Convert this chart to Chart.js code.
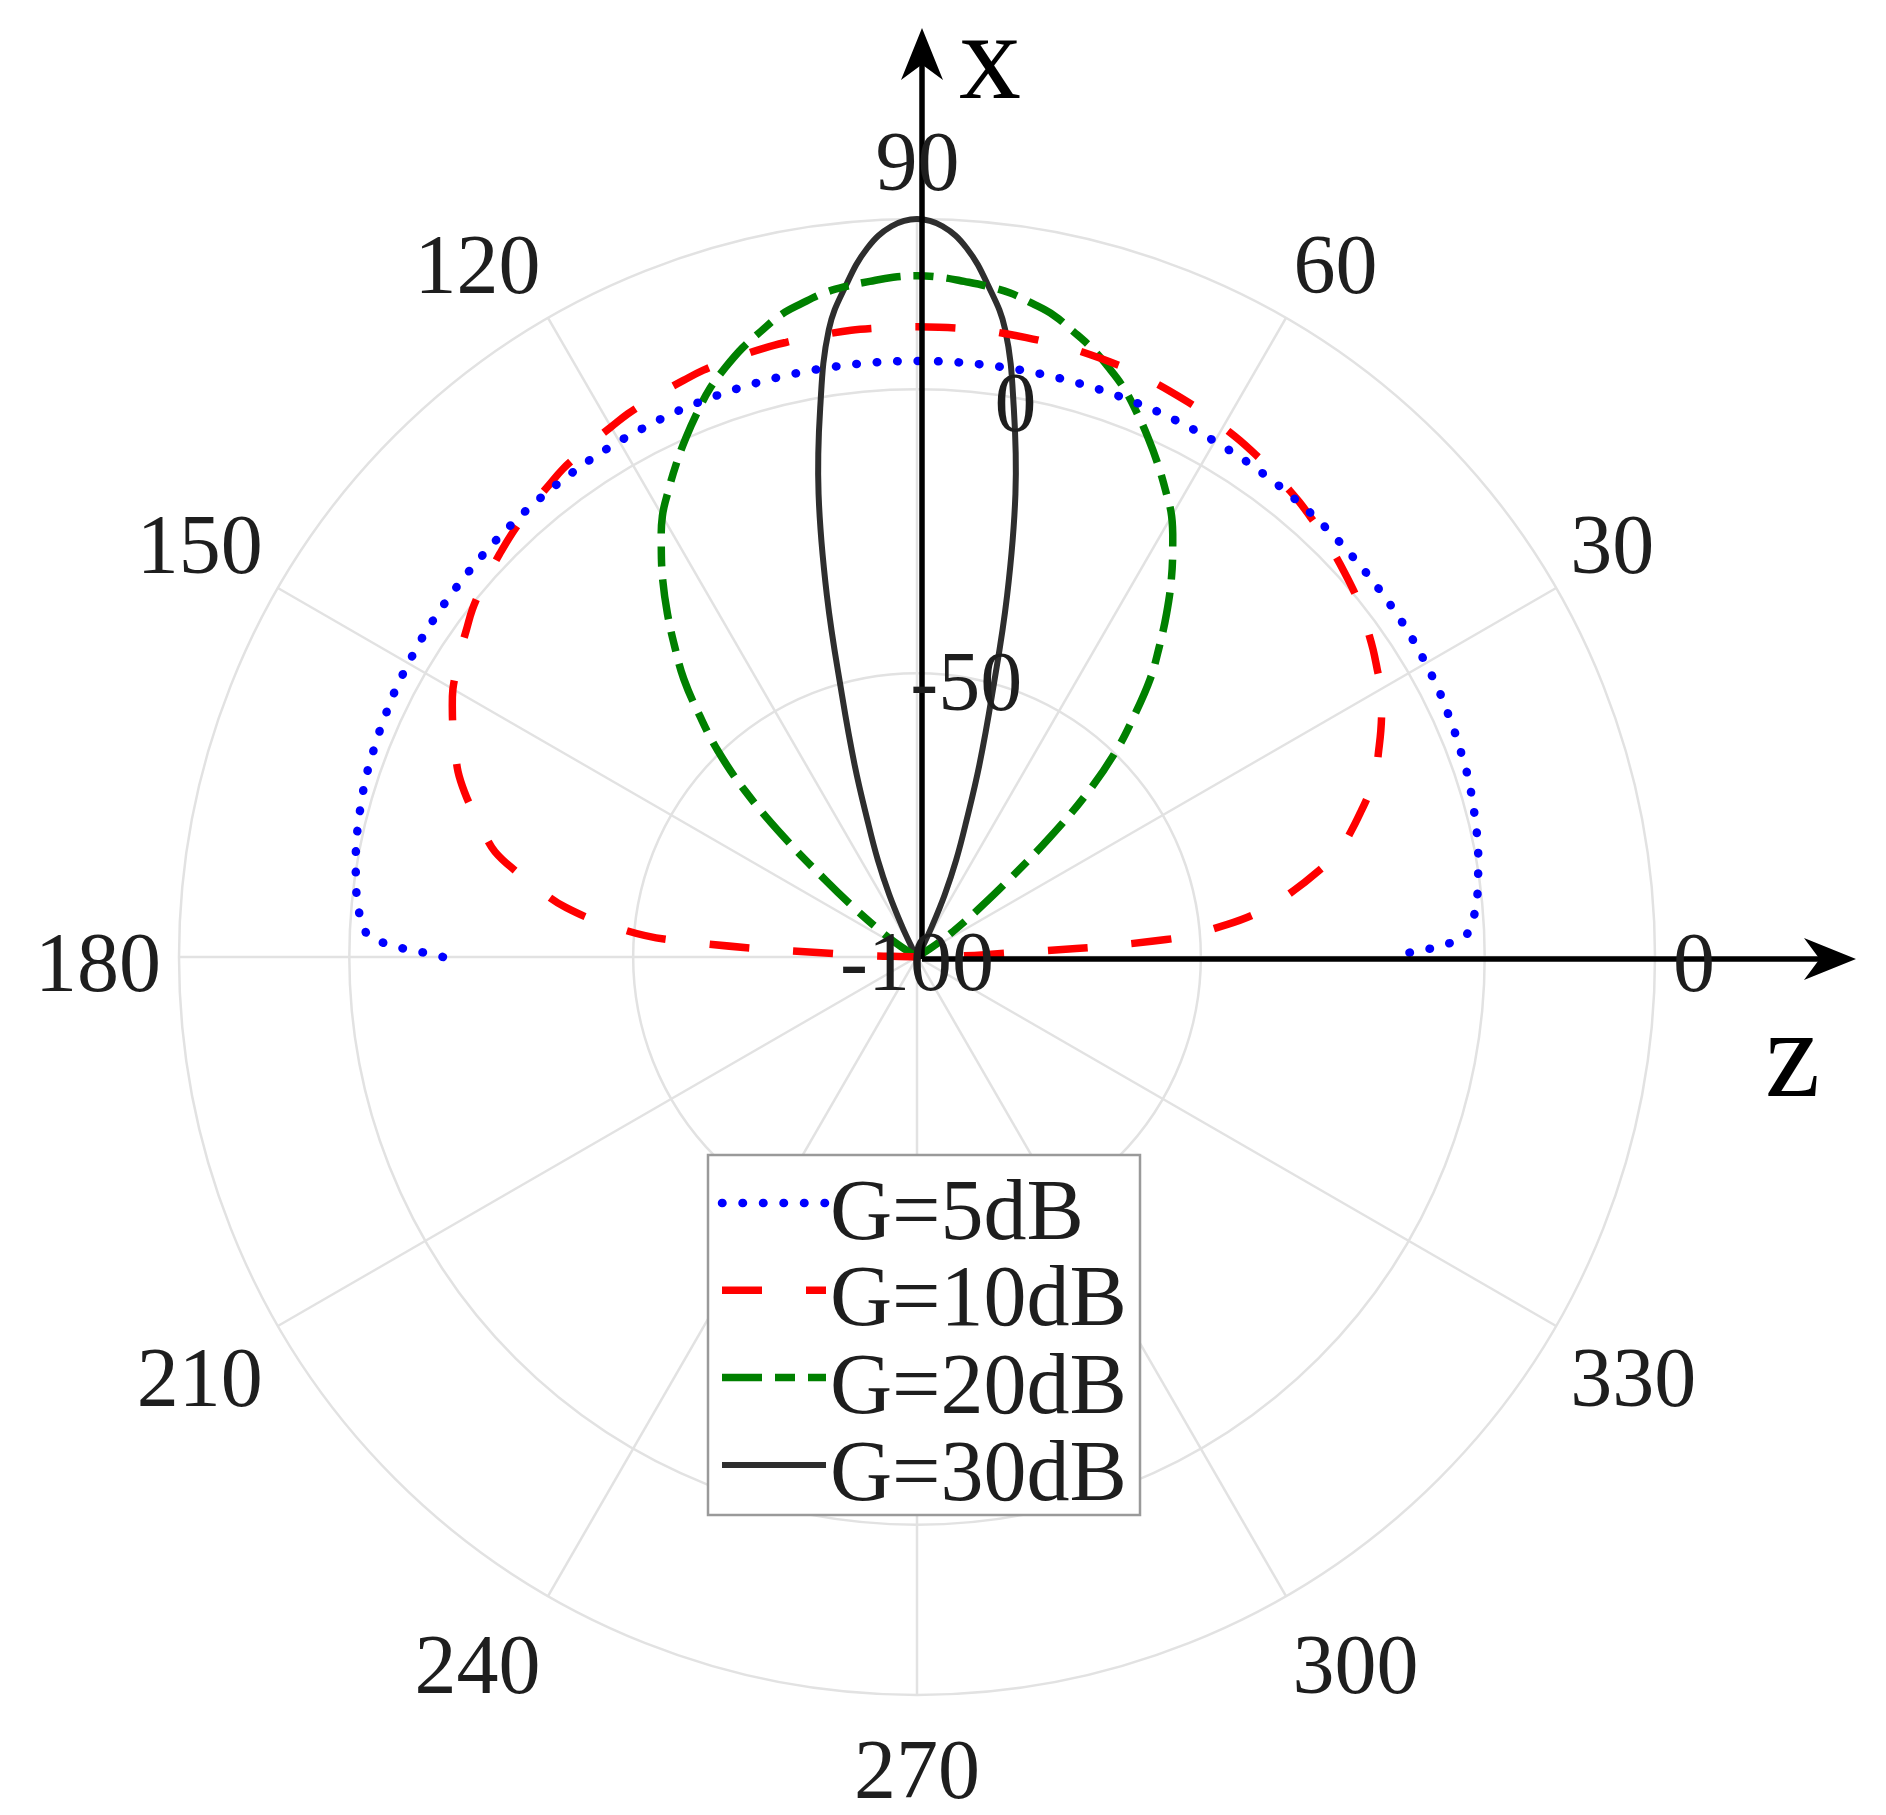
<!DOCTYPE html>
<html>
<head>
<meta charset="utf-8">
<script src="https://cdn.jsdelivr.net/npm/chart.js@4.4.1/dist/chart.umd.min.js"></script>
<style>
  html, body { margin: 0; padding: 0; background: #fff; }
  #wrap { width: 1886px; height: 1815px; position: relative; }
</style>
</head>
<body>
<div id="wrap"><canvas id="polar"></canvas></div>
<script>
// 角度 θ (度)，0..180，每 2 度一點；180..360 沒有資料
const thetaDeg = [
  0, 2, 4, 6, 8, 10, 12, 14, 16, 18, 20, 22, 24, 26, 28, 30, 32, 34, 36, 38,
  40, 42, 44, 46, 48, 50, 52, 54, 56, 58, 60, 62, 64, 66, 68, 70, 72, 74, 76, 78,
  80, 82, 84, 86, 88, 90, 92, 94, 96, 98, 100, 102, 104, 106, 108, 110, 112, 114, 116, 118,
  120, 122, 124, 126, 128, 130, 132, 134, 136, 138, 140, 142, 144, 146, 148, 150, 152, 154, 156, 158,
  160, 162, 164, 166, 168, 170, 172, 174, 176, 178, 180
];
const angleTicks = [0, 30, 60, 90, 120, 150, 180, 210, 240, 270, 300, 330];
const rTicks = [-100, -50, 0];
const seriesNames = ['G=5dB', 'G=10dB', 'G=20dB', 'G=30dB'];

// 方向圖 (dB)
const gain5 = [
  -16.5, -3.9, -1.8, -0.8, -0.2, 0.4, 0.9, 1.3, 1.7, 2.1, 2.3, 2.6, 2.8, 3.1, 3.3, 3.45, 3.65, 3.8, 3.9, 4.0,
  4.1, 4.2, 4.3, 4.4, 4.5, 4.55, 4.65, 4.7, 4.8, 4.85, 4.9, 4.9, 4.95, 5.0, 5.0, 5.0, 5.0, 5.0, 5.0, 5.0,
  5.0, 5.0, 5.0, 5.0, 5.0, 5.0, 5.0, 5.0, 5.0, 5.0, 5.0, 5.0, 5.0, 5.0, 5.0, 5.0, 5.0, 5.0, 4.95, 4.9,
  4.9, 4.85, 4.8, 4.7, 4.65, 4.55, 4.5, 4.4, 4.3, 4.2, 4.1, 4.0, 3.9, 3.8, 3.65, 3.45, 3.3, 3.1, 2.8, 2.6,
  2.3, 2.1, 1.7, 1.3, 0.9, 0.4, -0.2, -0.8, -1.8, -3.9, -16.5
];
const gain10 = [
  -100, -88, -56, -45, -37.6, -32.6, -27.9, -23.4, -20.6, -17.9, -15.2, -12.8, -11.0, -9.1, -7.3, -5.6, -4.4, -3.1, -1.9, -0.6,
  0.4, 1.3, 2.2, 3.1, 3.9, 4.7, 5.4, 6.2, 6.7, 7.3, 7.8, 8.4, 8.8, 9.2, 9.6, 10.0, 10.2, 10.4, 10.6, 10.7,
  10.8, 10.9, 11.0, 11.0, 11.0, 11.0, 11.0, 11.0, 11.0, 10.9, 10.8, 10.7, 10.6, 10.4, 10.2, 10.0, 9.6, 9.2, 8.8, 8.4,
  7.8, 7.3, 6.7, 6.2, 5.4, 4.7, 3.9, 3.1, 2.2, 1.3, 0.4, -0.6, -1.9, -3.1, -4.4, -5.6, -7.3, -9.1, -11.0, -12.8,
  -15.2, -17.9, -20.6, -23.4, -27.9, -32.6, -37.6, -45, -56, -88, -100
];
const gain20 = [
  -100, -100, -100, -100, -100, -100, -100, -100, -100, -100, -100, -100, -100, -100, -100, -100, -98, -94.5, -91, -86,
  -79, -68.5, -58, -49.5, -42.8, -36.1, -30.7, -25.2, -19.9, -15.0, -10.3, -6.8, -3.3, 0.1, 3.4, 6.6, 9.2, 11.6, 13.6, 15.6,
  16.9, 18.1, 18.8, 19.3, 19.8, 20.0, 19.8, 19.3, 18.8, 18.1, 16.9, 15.6, 13.6, 11.6, 9.2, 6.6, 3.4, 0.1, -3.3, -6.8,
  -10.3, -15.0, -19.9, -25.2, -30.7, -36.1, -42.8, -49.5, -58, -68.5, -79, -86, -91, -94.5, -98, -100, -100, -100, -100, -100,
  -100, -100, -100, -100, -100, -100, -100, -100, -100, -100, -100
];
const gain30 = [
  -100, -100, -100, -100, -100, -100, -100, -100, -100, -100, -100, -100, -100, -100, -100, -100, -100, -100, -100, -100,
  -100, -100, -100, -100, -100, -100, -100, -100, -100, -100, -100, -98, -94, -88, -81.6, -74.7, -64.5, -52.1, -34.4, -16.6,
  -1.8, 11.6, 19.1, 25.2, 28.8, 30.0, 28.8, 25.2, 19.1, 11.6, -1.8, -16.6, -34.4, -52.1, -64.5, -74.7, -81.6, -88, -94, -98,
  -100, -100, -100, -100, -100, -100, -100, -100, -100, -100, -100, -100, -100, -100, -100, -100, -100, -100, -100, -100,
  -100, -100, -100, -100, -100, -100, -100, -100, -100, -100, -100
];

const STEP = 2;
const N = 360 / STEP;
// radar 預設順時針，這裡把 index 換成逆時針的角度
const radarLabels = [];
for (let i = 0; i < N; i++) radarLabels.push((360 - i * STEP) % 360);

function toRadar(values) {
  return radarLabels.map(a => {
    const k = thetaDeg.indexOf(a);
    return k === -1 ? null : values[k];
  });
}

const GRID = '#e2e2e2';
const FONT = '"Liberation Serif", "Times New Roman", serif';

function inkText(g, txt, size, x, y, hAlign, vAlign) {
  g.font = size + 'px ' + FONT;
  g.textAlign = 'left';
  g.textBaseline = 'alphabetic';
  const m = g.measureText(txt);
  const w = m.actualBoundingBoxLeft + m.actualBoundingBoxRight;
  const h = m.actualBoundingBoxAscent + m.actualBoundingBoxDescent;
  const left = hAlign === 'center' ? x - w / 2 : hAlign === 'right' ? x - w : x;
  const top = vAlign === 'middle' ? y - h / 2 : vAlign === 'bottom' ? y - h : y;
  g.fillText(txt, left + m.actualBoundingBoxLeft, top + m.actualBoundingBoxAscent);
}

function arrow(g, x0, y0, x1, y1) {
  const len = Math.hypot(x1 - x0, y1 - y0);
  const ux = (x1 - x0) / len, uy = (y1 - y0) / len;
  const L = 52, W = 21;
  g.beginPath();
  g.moveTo(x0, y0);
  g.lineTo(x1 - ux * L * 0.6, y1 - uy * L * 0.6);
  g.stroke();
  g.beginPath();
  g.moveTo(x1, y1);
  g.lineTo(x1 - ux * L - uy * W, y1 - uy * L + ux * W);
  g.lineTo(x1 - ux * L * 0.7, y1 - uy * L * 0.7);
  g.lineTo(x1 - ux * L + uy * W, y1 - uy * L - ux * W);
  g.closePath();
  g.fill();
}

const decor = {
  id: 'decor',
  afterDatasetsDraw(chart) {
    const r = chart.scales.r;
    const g = chart.ctx;
    const cx = r.xCenter, cy = r.yCenter, D = r.drawingArea;
    g.save();

    // 座標軸箭頭 x、z
    g.strokeStyle = '#000';
    g.fillStyle = '#000';
    g.lineWidth = 5.5;
    arrow(g, cx + 5, cy + 2, cx + 5, 28);
    arrow(g, cx + 5, cy + 2, 1856, cy + 2);
    inkText(g, 'x', 124, 960, 98, 'left', 'bottom');
    inkText(g, 'z', 124, 1768, 1096, 'left', 'bottom');

    // 角度標籤
    g.fillStyle = '#1e1e1e';
    angleTicks.forEach(a => {
      const idx = ((360 - a) % 360) / STEP;
      const pH = r.getPointPosition(idx, D + 21);
      const hAlign = (a === 90 || a === 270) ? 'center' : (a > 90 && a < 270 ? 'right' : 'left');
      let y, vAlign;
      if (a === 0 || a === 180) { y = cy + 6; vAlign = 'middle'; }
      else if (a < 180) { y = r.getPointPosition(idx, D + 28).y; vAlign = 'bottom'; }
      else { y = r.getPointPosition(idx, D + 46).y; vAlign = 'top'; }
      inkText(g, String(a), 84, pH.x, y, hAlign, vAlign);
    });

    // 半徑刻度 (沿 80° 方向)
    const ang = 80 * Math.PI / 180;
    rTicks.forEach(v => {
      const d = r.getDistanceFromCenterForValue(v);
      inkText(g, String(v), 84, cx + d * Math.cos(ang), cy - d * Math.sin(ang) + 5, 'center', 'middle');
    });

    // 圖例
    const box = { x: 708, y: 1155, w: 432, h: 360 };
    g.fillStyle = '#fff';
    g.fillRect(box.x, box.y, box.w, box.h);
    g.strokeStyle = '#9a9a9a';
    g.lineWidth = 2.5;
    g.strokeRect(box.x, box.y, box.w, box.h);
    chart.data.datasets.forEach((ds, k) => {
      const yy = 1203 + k * 87.3;
      g.save();
      g.strokeStyle = ds.borderColor;
      g.lineWidth = ds.borderWidth;
      g.lineCap = ds.borderCapStyle || 'butt';
      g.setLineDash(ds.borderDash || []);
      g.beginPath();
      g.moveTo(722, yy);
      g.lineTo(826, yy);
      g.stroke();
      g.restore();
      g.fillStyle = '#1e1e1e';
      inkText(g, ds.label, 86, 833, yy + 6, 'left', 'middle');
    });
    g.restore();
  }
};

const ctx = document.getElementById('polar').getContext('2d');
new Chart(ctx, {
  type: 'radar',
  data: {
    labels: radarLabels,
    datasets: [
      { label: seriesNames[0], data: toRadar(gain5), borderColor: '#0000ff', borderWidth: 8.5,
        borderDash: [0.5, 20], borderCapStyle: 'round', fill: false, clip: false },
      { label: seriesNames[1], data: toRadar(gain10), borderColor: '#ff0000', borderWidth: 7.5,
        borderDash: [40, 44], borderCapStyle: 'butt', fill: false, clip: false },
      { label: seriesNames[2], data: toRadar(gain20), borderColor: '#008000', borderWidth: 7.5,
        borderDash: [40, 13, 20, 13], borderCapStyle: 'butt', fill: false, clip: false },
      { label: seriesNames[3], data: toRadar(gain30), borderColor: '#2e2e2e', borderWidth: 6,
        fill: false, clip: false }
    ]
  },
  options: {
    responsive: true,
    maintainAspectRatio: false,
    animation: false,
    events: [],
    layout: { padding: { left: 179, top: 219, right: 231, bottom: 120 } },
    plugins: { legend: { display: false }, tooltip: { enabled: false } },
    elements: {
      point: { radius: 0, hoverRadius: 0, hitRadius: 0 },
      line: { tension: 0.4 }
    },
    scales: {
      r: {
        min: -100,
        max: 30,
        startAngle: 90,
        ticks: { display: false, stepSize: 50 },
        pointLabels: { display: false },
        grid: { circular: true, color: GRID, lineWidth: 2.5 },
        angleLines: {
          color: GRID,
          lineWidth: c => ((c.index * STEP) % 30 === 0 ? 2.5 : 0)
        }
      }
    }
  },
  plugins: [decor]
});
</script>
</body>
</html>
